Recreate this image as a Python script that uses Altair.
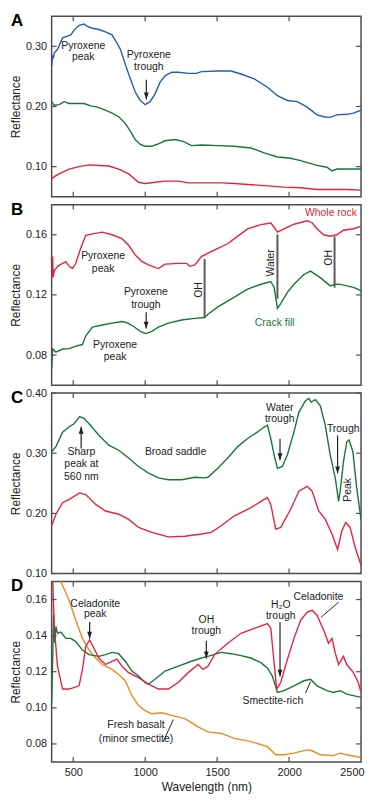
import altair as alt
import pandas as pd

# ---------------- layout / style ----------------
W, H = 312, 182
FONT = "Liberation Sans"
INK = "#222222"
FRAME = "#4d4d4d"
BLUE, GREEN, RED, ORANGE = "#1f5fae", "#17763b", "#e8223d", "#f08a1d"

X_DOMAIN = [350, 2500]
X_TICKS = [500, 1000, 1500, 2000, 2500]

# ---------------- Panel A ----------------
A_BLUE_NM = [350, 357, 362, 368, 391, 426, 460, 483, 506, 541, 575, 598, 633, 678, 724, 770, 805, 828, 862,
             897, 931, 966, 1000, 1034, 1069, 1103, 1138, 1184, 1230, 1299, 1356, 1391, 1505, 1597, 1666,
             1758, 1850, 1919, 1988, 2057, 2126, 2194, 2240, 2286, 2332, 2401, 2447, 2500]
A_BLUE = [0.267, 0.285, 0.280, 0.289, 0.295, 0.314, 0.317, 0.319, 0.327, 0.335, 0.337, 0.333, 0.330, 0.328,
          0.324, 0.319, 0.305, 0.295, 0.270, 0.246, 0.224, 0.210, 0.203, 0.208, 0.221, 0.240, 0.251, 0.257,
          0.257, 0.255, 0.255, 0.258, 0.259, 0.259, 0.254, 0.246, 0.232, 0.218, 0.210, 0.208, 0.199, 0.186,
          0.183, 0.182, 0.186, 0.187, 0.189, 0.194]
A_GREEN_NM = [350, 368, 403, 437, 472, 518, 575, 621, 667, 724, 770, 816, 862, 897, 931, 966, 1000, 1046,
              1092, 1138, 1207, 1264, 1322, 1391, 1505, 1620, 1735, 1827, 1919, 2011, 2080, 2194, 2263, 2298,
              2332, 2500]
A_GREEN = [0.208, 0.202, 0.203, 0.208, 0.205, 0.205, 0.205, 0.201, 0.199, 0.194, 0.189, 0.183, 0.172, 0.159,
           0.145, 0.137, 0.134, 0.134, 0.138, 0.143, 0.145, 0.142, 0.135, 0.136, 0.135, 0.134, 0.131, 0.123,
           0.116, 0.114, 0.110, 0.102, 0.099, 0.093, 0.096, 0.096]
A_RED_NM = [350, 380, 426, 472, 541, 610, 678, 747, 816, 885, 954, 1000, 1069, 1138, 1230, 1299, 1391, 1528,
            1620, 1735, 1850, 1965, 2080, 2194, 2309, 2401, 2500]
A_RED = [0.080, 0.085, 0.091, 0.096, 0.100, 0.103, 0.102, 0.101, 0.096, 0.088, 0.074, 0.072, 0.074, 0.076,
         0.076, 0.073, 0.073, 0.073, 0.072, 0.070, 0.068, 0.066, 0.065, 0.062, 0.062, 0.062, 0.061]

# ---------------- Panel B ----------------
B_RED_NM = [350, 357, 361, 368, 391, 426, 449, 472, 495, 518, 552, 587, 633, 701, 770, 839, 885, 931, 977,
            1023, 1092, 1138, 1230, 1287, 1310, 1345, 1391, 1436, 1505, 1574, 1620, 1712, 1804, 1873, 1896,
            1919, 1965, 2034, 2126, 2160, 2194, 2240, 2286, 2332, 2378, 2447, 2500]
B_RED = [0.130, 0.1455, 0.132, 0.136, 0.139, 0.141, 0.142, 0.139, 0.1375, 0.141, 0.151, 0.1596, 0.1606,
         0.1617, 0.160, 0.1574, 0.153, 0.1466, 0.1423, 0.140, 0.1375, 0.1405, 0.141, 0.141, 0.139, 0.140,
         0.1455, 0.1477, 0.151, 0.154, 0.1574, 0.1639, 0.1667, 0.1678, 0.165, 0.1617, 0.1639, 0.167, 0.1693,
         0.168, 0.164, 0.160, 0.159, 0.160, 0.163, 0.164, 0.1656]
B_GREEN_NM = [350, 357, 380, 426, 472, 518, 564, 587, 633, 701, 770, 839, 874, 920, 966, 1005, 1046, 1092,
              1161, 1253, 1345, 1414, 1436, 1505, 1620, 1712, 1804, 1873, 1896, 1919, 1942, 1988, 2034, 2103,
              2149, 2217, 2286, 2321, 2355, 2447, 2500]
B_GREEN = [0.071, 0.084, 0.082, 0.084, 0.0843, 0.086, 0.087, 0.0926, 0.0986, 0.100, 0.1012, 0.1023, 0.1016,
           0.099, 0.0958, 0.0943, 0.0958, 0.0986, 0.1012, 0.1033, 0.1044, 0.105, 0.1072, 0.112, 0.1185,
           0.1239, 0.1271, 0.1289, 0.125, 0.111, 0.1142, 0.1217, 0.1271, 0.1336, 0.1358, 0.1315, 0.126,
           0.1271, 0.127, 0.125, 0.1228]

# ---------------- Panel C ----------------
C_GREEN_NM = [350, 380, 426, 472, 506, 545, 575, 621, 678, 747, 816, 885, 954, 1023, 1092, 1161, 1253, 1345,
              1414, 1436, 1505, 1574, 1643, 1712, 1781, 1827, 1850, 1873, 1896, 1919, 1953, 1988, 2034, 2068,
              2114, 2137, 2153, 2183, 2217, 2252, 2286, 2321, 2344, 2355, 2378, 2401, 2417, 2443, 2470, 2500]
C_GREEN = [0.3026, 0.311, 0.335, 0.344, 0.349, 0.361, 0.358, 0.346, 0.330, 0.3135, 0.305, 0.292, 0.278,
           0.267, 0.259, 0.256, 0.256, 0.260, 0.259, 0.260, 0.275, 0.292, 0.311, 0.3245, 0.3354, 0.3436,
           0.3464, 0.3245, 0.297, 0.275, 0.278, 0.297, 0.3354, 0.368, 0.3874, 0.391, 0.385, 0.389, 0.379,
           0.346, 0.297, 0.259, 0.220, 0.237, 0.286, 0.319, 0.322, 0.303, 0.2424, 0.190]
C_RED_NM = [350, 380, 426, 472, 545, 587, 656, 724, 816, 885, 954, 1046, 1161, 1276, 1391, 1459, 1528, 1620,
            1735, 1827, 1850, 1873, 1907, 1942, 2011, 2068, 2126, 2160, 2206, 2252, 2298, 2337, 2367, 2394,
            2424, 2459, 2500]
C_RED = [0.1794, 0.1986, 0.2177, 0.2232, 0.234, 0.2314, 0.215, 0.204, 0.1986, 0.190, 0.1767, 0.1685, 0.161,
         0.162, 0.1657, 0.1685, 0.1794, 0.196, 0.2095, 0.2232, 0.226, 0.215, 0.174, 0.1767, 0.2068, 0.237,
         0.245, 0.237, 0.204, 0.190, 0.1657, 0.140, 0.1712, 0.1849, 0.1767, 0.1438, 0.1137]

# ---------------- Panel D ----------------
D_ORANGE_NM = [350, 414, 472, 518, 564, 610, 656, 701, 770, 816, 862, 908, 954, 1000, 1046, 1115, 1184, 1276,
               1368, 1436, 1528, 1620, 1735, 1850, 1907, 1965, 2034, 2126, 2160, 2217, 2309, 2355, 2401, 2500]
D_ORANGE = [0.190, 0.170, 0.1595, 0.1485, 0.1385, 0.132, 0.1276, 0.124, 0.1213, 0.1185, 0.1149, 0.1067,
            0.1013, 0.0985, 0.0967, 0.0973, 0.0958, 0.094, 0.0895, 0.0867, 0.0858, 0.0831, 0.0813, 0.0785,
            0.074, 0.074, 0.0749, 0.0767, 0.0762, 0.074, 0.0735, 0.0749, 0.074, 0.0725]
D_GREEN_NM = [350, 357, 364, 371, 380, 391, 414, 449, 483, 518, 564, 610, 678, 724, 770, 816, 862, 908, 954,
              1000, 1023, 1069, 1138, 1230, 1322, 1391, 1436, 1528, 1597, 1666, 1735, 1804, 1850, 1884, 1919,
              1965, 2034, 2103, 2149, 2194, 2263, 2309, 2355, 2401, 2500]
D_GREEN = [0.103, 0.1267, 0.152, 0.136, 0.145, 0.1413, 0.142, 0.1385, 0.1385, 0.1367, 0.132, 0.1295, 0.1285,
           0.1295, 0.1307, 0.130, 0.1258, 0.1204, 0.1176, 0.114, 0.1131, 0.1158, 0.1204, 0.1231, 0.1258,
           0.1276, 0.1285, 0.1307, 0.130, 0.1289, 0.1276, 0.125, 0.122, 0.1176, 0.1085, 0.1095, 0.1122,
           0.115, 0.1158, 0.1122, 0.1095, 0.1085, 0.1095, 0.1076, 0.1058]
D_RED_NM = [350, 368, 391, 426, 472, 541, 564, 587, 614, 644, 678, 724, 770, 805, 839, 885, 954, 1023, 1092,
            1161, 1230, 1299, 1368, 1402, 1436, 1482, 1574, 1666, 1758, 1850, 1873, 1896, 1914, 1942, 1988,
            2034, 2080, 2126, 2160, 2194, 2240, 2274, 2298, 2321, 2344, 2378, 2401, 2447, 2481, 2500]
D_RED = [0.190, 0.145, 0.123, 0.1104, 0.1104, 0.1122, 0.1213, 0.134, 0.1376, 0.133, 0.1276, 0.124, 0.1258,
         0.127, 0.123, 0.1195, 0.1167, 0.1131, 0.1104, 0.1104, 0.114, 0.1195, 0.124, 0.1213, 0.123, 0.1295,
         0.1358, 0.1413, 0.144, 0.1467, 0.144, 0.125, 0.1104, 0.114, 0.1267, 0.1385, 0.1485, 0.1531, 0.154,
         0.1513, 0.1431, 0.1358, 0.1385, 0.1304, 0.124, 0.1285, 0.124, 0.1195, 0.114, 0.1085]

# ---------------- annotations (label, nm, reflectance) ----------------
A_TEXT = [("Pyroxene", 570, 0.3006), ("peak", 570, 0.2824), ("Pyroxene", 1025, 0.2857), ("trough", 1025, 0.2659)]
A_DOWN = [(1008, 0.2445, 0.2116)]

B_TEXT = [("Pyroxene", 708, 0.1457), ("peak", 708, 0.1374), ("Pyroxene", 1005, 0.122), ("trough", 1005, 0.1134),
          ("Pyroxene", 791, 0.0864), ("peak", 791, 0.0787)]
B_RED_TEXT = [("Whole rock", 2472, 0.1743)]
B_GREEN_TEXT = [("Crack fill", 1900, 0.1014)]
B_VLINES = [(1413, 0.1438, 0.1051), (1919, 0.1602, 0.1174), (2316, 0.1589, 0.1248)]
B_ROT = [("OH", 1377, 0.1233), ("Water", 1878, 0.1413), ("OH", 2279, 0.1446)]
B_DOWN = [(1007, 0.1084, 0.0976)]

C_TEXT = [("Sharp", 557, 0.3028), ("peak at", 557, 0.2814), ("560 nm", 557, 0.2604), ("Broad saddle", 1211, 0.3028),
          ("Water", 1935, 0.3748), ("trough", 1935, 0.3571), ("Trough", 2376, 0.3407)]
C_ROT = [("Peak", 2412, 0.239)]
C_UP = [(555, 0.3077, 0.344)]
C_DOWN = [(1937, 0.3242, 0.2884), (2337, 0.3296, 0.2665)]

D_TEXT = [("Celadonite", 653, 0.1575), ("peak", 653, 0.152), ("OH", 1425, 0.1484), ("trough", 1425, 0.1424),
          ("H\u2082O", 1942, 0.1567), ("trough", 1942, 0.1506), ("Celadonite", 2204, 0.1616),
          ("Smectite-rich", 1887, 0.1036), ("Fresh basalt", 936, 0.0904), ("(minor smectite)", 936, 0.0825)]
D_DOWN = [(614, 0.1475, 0.1383), (1425, 0.1371, 0.1273), (1937, 0.1475, 0.1173)]
D_LEADERS = [(2344, 0.1585, 2222, 0.1502), (2114, 0.1081, 2149, 0.1145), (1127, 0.0816, 1196, 0.0935)]

DOWN_HEAD = "M-0.35,-1L0.35,-1L0,0Z"
UP_HEAD = "M-0.35,1L0.35,1L0,0Z"


def xenc(field, show):
    if show:
        axis = alt.Axis(values=X_TICKS, title="Wavelength (nm)", grid=False, domain=False, ticks=False,
                        tickSize=0, labelPadding=5, titlePadding=4, labelFlush=True, labelFlushOffset=3,
                        format="d")
    else:
        axis = None
    return alt.X(f"{field}:Q", scale=alt.Scale(domain=X_DOMAIN, nice=False, zero=False), axis=axis)


def yenc(field, ydom, yticks):
    return alt.Y(f"{field}:Q", scale=alt.Scale(domain=ydom, nice=False, zero=False),
                 axis=alt.Axis(values=yticks, format=".2f", title="Reflectance", grid=False, domain=False,
                               ticks=False, tickSize=0, labelPadding=5, titlePadding=3))


def panel(letter, series, ydom, yticks, show_x=False, texts=(), colored=(), rot=(), vlines=(),
          down=(), up=(), leaders=()):
    X = lambda f: xenc(f, show_x)
    Y = lambda f: yenc(f, ydom, yticks)
    df = pd.concat([pd.DataFrame({"nm": s[1], "r": s[2], "s": s[0], "c": s[3]}) for s in series],
                   ignore_index=True)
    layers = [
        alt.Chart(df).mark_line(strokeWidth=1.4, clip=True).encode(
            x=X("nm"), y=Y("r"), detail="s:N", color=alt.Color("c:N", scale=None))
    ]
    xt = pd.DataFrame({"t": X_TICKS[:-1]})
    yt = pd.DataFrame({"t": yticks})
    layers += [
        alt.Chart(xt).mark_rule(color=FRAME, strokeWidth=1.2).encode(x=X("t"), y=alt.value(0), y2=alt.value(5)),
        alt.Chart(xt).mark_rule(color=FRAME, strokeWidth=1.2).encode(x=X("t"), y=alt.value(H - 5), y2=alt.value(H)),
        alt.Chart(yt).mark_rule(color=FRAME, strokeWidth=1.2).encode(y=Y("t"), x=alt.value(0), x2=alt.value(5)),
        alt.Chart(yt).mark_rule(color=FRAME, strokeWidth=1.2).encode(y=Y("t"), x=alt.value(W - 5), x2=alt.value(W)),
    ]
    if texts:
        tdf = pd.DataFrame(texts, columns=["label", "nm", "r"])
        layers.append(alt.Chart(tdf).mark_text(font=FONT, fontSize=10.5, color=INK, align="center",
                                               baseline="middle").encode(x=X("nm"), y=Y("r"), text="label:N"))
    for (items, col, al) in colored:
        tdf = pd.DataFrame(items, columns=["label", "nm", "r"])
        layers.append(alt.Chart(tdf).mark_text(font=FONT, fontSize=10.5, color=col, align=al,
                                               baseline="middle").encode(x=X("nm"), y=Y("r"), text="label:N"))
    if vlines:
        vdf = pd.DataFrame(vlines, columns=["nm", "r", "r2"])
        layers.append(alt.Chart(vdf).mark_rule(color="#5a5a5a", strokeWidth=2).encode(
            x=X("nm"), y=Y("r"), y2=alt.Y2("r2")))
    if rot:
        rdf = pd.DataFrame(rot, columns=["label", "nm", "r"])
        layers.append(alt.Chart(rdf).mark_text(font=FONT, fontSize=10.5, color=INK, align="center",
                                               baseline="middle", angle=270).encode(
            x=X("nm"), y=Y("r"), text="label:N"))
    for items, head in ((down, DOWN_HEAD), (up, UP_HEAD)):
        if items:
            adf = pd.DataFrame(items, columns=["nm", "r", "r2"])
            layers.append(alt.Chart(adf).mark_rule(color=INK, strokeWidth=1.2).encode(
                x=X("nm"), y=Y("r"), y2=alt.Y2("r2")))
            layers.append(alt.Chart(adf).mark_point(shape=head, filled=True, size=196, color=INK, opacity=1,
                                                    strokeWidth=0).encode(x=X("nm"), y=Y("r2")))
    if leaders:
        ldf = pd.DataFrame(leaders, columns=["nm", "r", "nm2", "r2"])
        layers.append(alt.Chart(ldf).mark_rule(color=INK, strokeWidth=1).encode(
            x=X("nm"), x2=alt.X2("nm2"), y=Y("r"), y2=alt.Y2("r2")))
    layers.append(alt.Chart(pd.DataFrame({"label": [letter]})).mark_text(
        font=FONT, fontSize=17, fontWeight="bold", align="left", baseline="top", color="#000").encode(
        x=alt.value(-41), y=alt.value(-3), text="label:N"))
    return alt.layer(*layers).properties(width=W, height=H)


pA = panel("A", [("blue", A_BLUE_NM, A_BLUE, BLUE), ("green", A_GREEN_NM, A_GREEN, GREEN),
                 ("red", A_RED_NM, A_RED, RED)],
           [0.05, 0.35], [0.10, 0.20, 0.30], texts=A_TEXT, down=A_DOWN)
pB = panel("B", [("whole", B_RED_NM, B_RED, RED), ("crack", B_GREEN_NM, B_GREEN, GREEN)],
           [0.06, 0.18], [0.08, 0.12, 0.16], texts=B_TEXT,
           colored=[(B_RED_TEXT, RED, "right"), (B_GREEN_TEXT, GREEN, "center")],
           rot=B_ROT, vlines=B_VLINES, down=B_DOWN)
pC = panel("C", [("green", C_GREEN_NM, C_GREEN, GREEN), ("red", C_RED_NM, C_RED, RED)],
           [0.10, 0.40], [0.10, 0.20, 0.30, 0.40], texts=C_TEXT, rot=C_ROT, down=C_DOWN, up=C_UP)
pD = panel("D", [("orange", D_ORANGE_NM, D_ORANGE, ORANGE), ("green", D_GREEN_NM, D_GREEN, GREEN),
                 ("red", D_RED_NM, D_RED, RED)],
           [0.07, 0.17], [0.08, 0.10, 0.12, 0.14, 0.16], show_x=True, texts=D_TEXT,
           down=D_DOWN, leaders=D_LEADERS)

chart = alt.vconcat(pA, pB, pC, pD, spacing=8, bounds="flush",
                    padding={"left": 0, "top": 0, "right": 0, "bottom": 0}).configure_axis(
    labelFont=FONT, titleFont=FONT, labelFontSize=11, titleFontSize=12, labelColor=INK, titleColor=INK,
    titleFontWeight="normal").configure_view(stroke=FRAME, strokeWidth=1.5)

chart.save("out.html", embed_options={"renderer": "svg", "actions": False})
